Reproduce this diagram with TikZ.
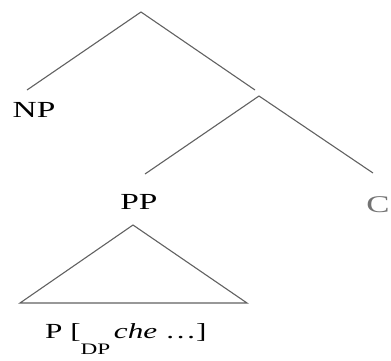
\documentclass[tikz,border=0pt]{standalone}
\usepackage{fontspec}
\setmainfont{Liberation Serif}[FakeStretch=1.45]
\begin{document}
\begin{tikzpicture}[x=1pt,y=-1pt,
  branch/.style={draw=black!62, line width=1.1pt},
  cat/.style={inner sep=0pt, font=\fontsize{23}{26}\selectfont},
  leaf/.style={inner sep=0pt, font=\fontsize{21.5}{24}\selectfont},
]
\useasboundingbox (0,0) rectangle (391,360);

% tree skeleton
\coordinate (root) at (141,12);
\coordinate (npTop) at (27,90);
\coordinate (rTop) at (255,90);
\coordinate (mid) at (259,96);
\coordinate (ppTop) at (145,174);
\coordinate (cTop) at (373,173);
\coordinate (triTop) at (133,225);
\coordinate (triL) at (20,303);
\coordinate (triR) at (247,303);

% category labels
\node[cat, anchor=base] (np) at (34,117.5) {NP};
\node[cat, anchor=base] (pp) at (139,209.5) {PP};
\node[cat, anchor=base, text=black!55, font=\fontsize{24}{26}\selectfont] (c) at (378,212) {C};
\node[leaf, anchor=base west] (leaf) at (45,338)
  {P [\raisebox{-16pt}{\fontsize{16}{16}\selectfont DP}\,\textit{che} …]};

% branches
\draw[branch] (npTop) -- (root) -- (rTop);
\draw[branch] (ppTop) -- (mid) -- (cTop);
\draw[branch] (triTop) -- (triL) -- (triR) -- cycle;
\end{tikzpicture}
\end{document}
